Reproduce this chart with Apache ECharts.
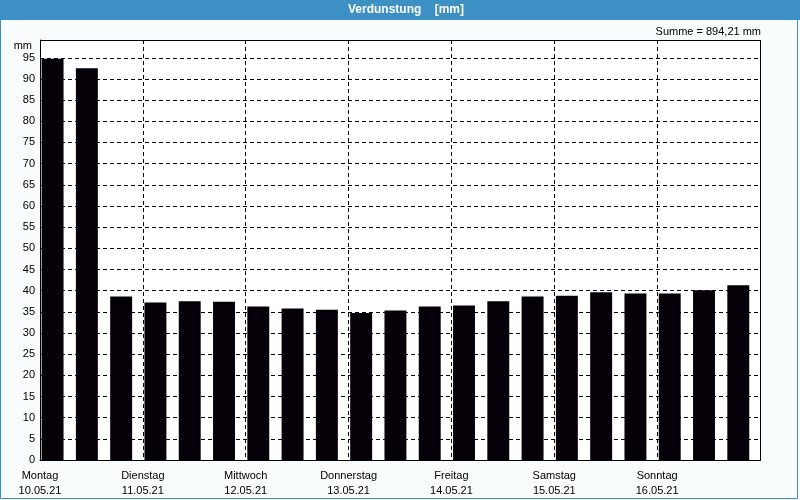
<!DOCTYPE html>
<html>
<head>
<meta charset="utf-8">
<script src="https://cdn.jsdelivr.net/npm/echarts@6/dist/echarts.min.js"></script>
<style>
html,body{margin:0;padding:0;background:#f8fcfc;}
#c{width:800px;height:500px;}
</style>
</head>
<body>
<div id="c"></div>
<script>
// Data
const dayNames = ['Montag','Dienstag','Mittwoch','Donnerstag','Freitag','Samstag','Sonntag'];
const dayDates = ['10.05.21','11.05.21','12.05.21','13.05.21','14.05.21','15.05.21','16.05.21'];
const slotsPerDay = 3;
const values = [94.8, 92.5, 38.6, 37.2, 37.5, 37.4, 36.25, 35.8, 35.5, 34.7, 35.3, 36.25, 36.5, 37.5, 38.6, 38.8, 39.6, 39.35, 39.35, 40.07, 41.3];
const titleText = 'Verdunstung    [mm]';
const sumText = 'Summe = 894,21 mm';
const yUnit = 'mm';
const yMax = 99.2;

const FONT = '"Liberation Sans", Arial, sans-serif';
const chart = echarts.init(document.getElementById('c'), null, {renderer:'canvas'});
const nSlots = values.length;
const G = {left:40, top:40, width:720, height:420};

chart.setOption({
  animation: false,
  backgroundColor: '#f8fcfc',
  textStyle: {fontFamily: FONT},
  graphic: [
    {type:'rect', shape:{x:0,y:0,width:800,height:20}, style:{fill:'#3c90c4'}, z:0},
    {type:'rect', shape:{x:0.5,y:0.5,width:797,height:498}, style:{fill:null, stroke:'#3c90c4', lineWidth:1}, z:0},
    {type:'text', x:406, y:10, style:{text:titleText, fill:'#ffffff', font:'bold 12px ' + FONT, align:'center', verticalAlign:'middle'}, z:1},
    {type:'text', x:761, y:32, style:{text:sumText, fill:'#000', font:'11px ' + FONT, align:'right', verticalAlign:'middle'}, z:1},
    {type:'text', x:32, y:46, style:{text:yUnit, fill:'#000', font:'11px ' + FONT, align:'right', verticalAlign:'middle'}, z:1},
    {type:'rect', shape:{x:G.left + 0.5, y:G.top + 0.5, width:G.width, height:G.height}, style:{fill:null, stroke:'#000', lineWidth:1}, z:100}
  ],
  grid: {left:G.left, top:G.top, width:G.width, height:G.height, show:true, backgroundColor:'#ffffff', borderColor:'#000', borderWidth:0},
  xAxis: {
    type:'value', min:0, max:nSlots, interval:slotsPerDay,
    axisLine:{show:true, lineStyle:{color:'#000', width:1}},
    axisTick:{show:false},
    splitLine:{show:true, lineStyle:{color:'#000', type:[4,3], width:1}},
    axisLabel:{
      color:'#000', fontSize:11, fontFamily:FONT, lineHeight:15, margin:8,
      showMaxLabel:false,
      formatter: v => {
        const d = Math.round(v / slotsPerDay);
        if (d < 0 || d >= dayNames.length) return '';
        return dayNames[d] + '\n' + dayDates[d];
      }
    }
  },
  yAxis: {
    type:'value', min:0, max:yMax, interval:5,
    axisLine:{show:true, lineStyle:{color:'#000', width:1}},
    axisTick:{show:false},
    splitLine:{show:true, lineStyle:{color:'#000', type:[4,3], width:1}},
    axisLabel:{color:'#000', fontSize:11, fontFamily:FONT, margin:5, showMaxLabel:false,
      formatter: v => (v > 95.001 ? '' : String(v))}
  },
  series: [{
    type:'custom',
    encode:{x:0, y:1},
    data: values.map((v, i) => [i, v]),
    renderItem: (params, api) => {
      const i = api.value(0), v = api.value(1);
      const p0 = api.coord([i, 0]);
      const p1 = api.coord([i + 1, v]);
      const slot = p1[0] - p0[0];
      return {
        type:'rect',
        shape:{x: p0[0] + slot * 0.047, y: p1[1], width: slot * 0.64, height: p0[1] - p1[1]},
        style:{fill:'#050008'}
      };
    },
    z: 3
  }]
});
</script>
</body>
</html>
